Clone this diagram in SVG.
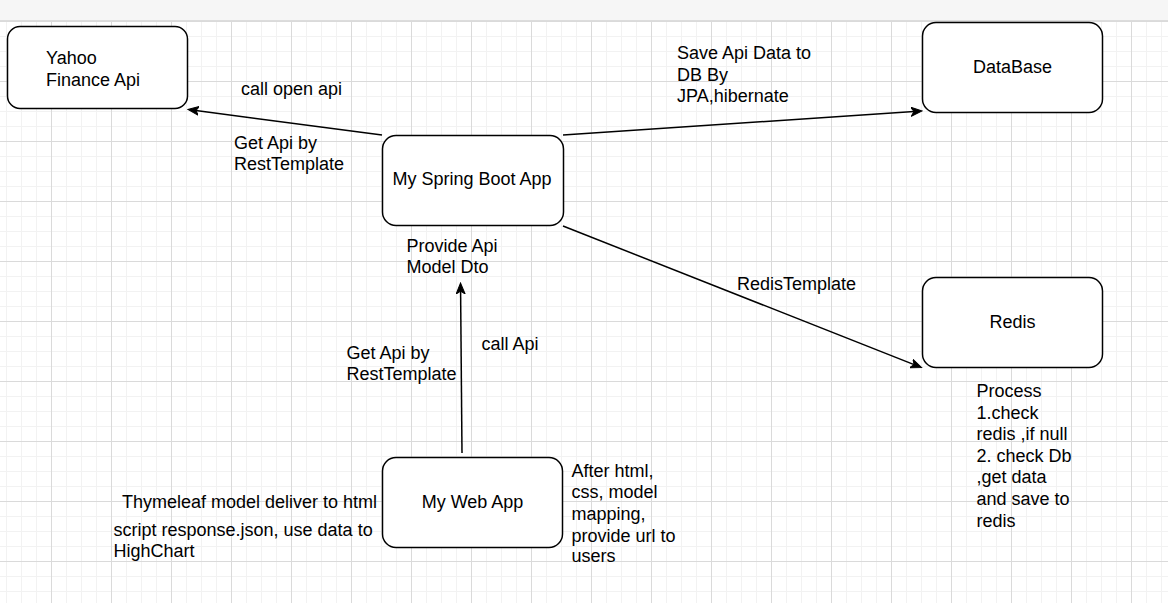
<svg xmlns="http://www.w3.org/2000/svg" width="1168" height="603" viewBox="0 0 1168 603">
  <style>
    .node rect { fill: #ffffff; stroke: #000000; stroke-width: 1.5; }
    text { font-family: "Liberation Sans", Arial, sans-serif; font-size: 18px; fill: #000000; }
    .c { text-anchor: middle; }
    .edge { fill: none; stroke: #000000; stroke-width: 1.5; marker-end: url(#arrow); }
  </style>
  <defs>
    <pattern id="grid" patternUnits="userSpaceOnUse" x="-9" y="21" width="60" height="60">
      <rect width="60" height="60" fill="#ffffff"/>
      <path d="M15.5,0 V60 M30.5,0 V60 M45.5,0 V60 M0,15.5 H60 M0,30.5 H60 M0,45.5 H60" stroke="#f2f2f2" stroke-width="1"/>
      <path d="M0.5,0 V60 M0,0.5 H60" stroke="#dadada" stroke-width="1"/>
    </pattern>
    <marker id="arrow" viewBox="0 0 12 10" refX="3" refY="5" markerWidth="12" markerHeight="10" markerUnits="userSpaceOnUse" orient="auto">
      <path d="M0,0.5 L11,5 L0,9.5 L3,5 Z" fill="#000000" stroke="#000000" stroke-width="1" stroke-linejoin="miter"/>
    </marker>
  </defs>

  <rect x="0" y="0" width="1168" height="603" fill="#ffffff"/>
  <rect x="0" y="21" width="1168" height="582" fill="url(#grid)"/>
  <rect x="0" y="0" width="1168" height="20" fill="#f6f6f6"/>
  <line x1="0" y1="20.5" x2="1168" y2="20.5" stroke="#dcdcdc" stroke-width="1"/>

  <g id="connectors">
    <path class="edge" d="M382,135 L195.9,110.5"/>
    <path class="edge" d="M563,135 L914,111.5"/>
    <path class="edge" d="M563,226 L914.1,364.6"/>
    <path class="edge" d="M462,453 L460.6,291"/>
  </g>

  <g id="yahoo" class="node">
    <rect x="7.5" y="26.5" width="180" height="82" rx="12.5" ry="12.5"/>
    <text x="46" y="64">Yahoo</text>
    <text x="46" y="86">Finance Api</text>
  </g>

  <g id="database" class="node">
    <rect x="922.5" y="22.5" width="180" height="90" rx="13.5" ry="13.5"/>
    <text class="c" x="1012.5" y="73">DataBase</text>
  </g>

  <g id="springboot" class="node">
    <rect x="382.5" y="135.5" width="181" height="90" rx="13.5" ry="13.5"/>
    <text class="c" x="472" y="185">My Spring Boot App</text>
  </g>

  <g id="redis" class="node">
    <rect x="922.5" y="277.5" width="180" height="90" rx="13.5" ry="13.5"/>
    <text class="c" x="1012.5" y="328">Redis</text>
  </g>

  <g id="webapp" class="node">
    <rect x="382.5" y="457.5" width="180" height="90" rx="13.5" ry="13.5"/>
    <text class="c" x="472.5" y="508">My Web App</text>
  </g>

  <g id="labels">
    <text x="241" y="95">call open api</text>
    <text x="234" y="149">Get Api by</text>
    <text x="234" y="170">RestTemplate</text>

    <text x="677" y="59">Save Api Data to</text>
    <text x="677" y="80.5">DB By</text>
    <text x="677" y="102">JPA,hibernate</text>

    <text x="406.5" y="251.5">Provide Api</text>
    <text x="406.5" y="273">Model Dto</text>

    <text x="737" y="290">RedisTemplate</text>

    <text x="481.5" y="350">call Api</text>
    <text x="346.5" y="358.5">Get Api by</text>
    <text x="346.5" y="380">RestTemplate</text>

    <text x="976.5" y="397">Process</text>
    <text x="976.5" y="418.5">1.check</text>
    <text x="976.5" y="440">redis ,if null</text>
    <text x="976.5" y="461.7">2. check Db</text>
    <text x="976.5" y="483.3">,get data</text>
    <text x="976.5" y="505">and save to</text>
    <text x="976.5" y="526.7">redis</text>

    <text x="571.5" y="476.7">After html,</text>
    <text x="571.5" y="498.3">css, model</text>
    <text x="571.5" y="520">mapping,</text>
    <text x="571.5" y="541.7">provide url to</text>
    <text x="571.5" y="562">users</text>

    <text x="122" y="508.3">Thymeleaf model deliver to html</text>
    <text x="113.5" y="536">script response.json, use data to</text>
    <text x="113.5" y="557">HighChart</text>
  </g>
</svg>
